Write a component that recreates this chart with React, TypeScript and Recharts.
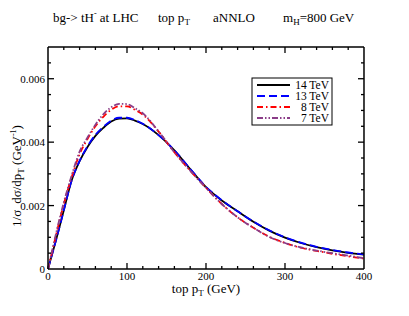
import React from "react";
import { Line, LineChart, XAxis, YAxis } from "recharts";

// top-quark pT distribution, normalised, for four LHC energies
const pT = [0, 5, 10, 20, 30, 40, 50, 60, 70, 80, 90, 100, 110, 120, 140, 160, 180, 200, 220, 240, 260, 280, 300, 320, 340, 360, 380, 400];
const tev14 = [0, 0.00045, 0.0009, 0.00185, 0.0028, 0.0034, 0.00385, 0.0042, 0.00445, 0.00465, 0.00474, 0.00475, 0.00468, 0.00457, 0.00422, 0.00374, 0.00315, 0.00258, 0.00216, 0.00182, 0.00149, 0.00121, 0.00099, 0.00082, 0.00069, 0.00059, 0.00051, 0.00045];
const tev13 = [0, 0.00045, 0.0009, 0.00185, 0.0028, 0.00341, 0.00387, 0.00423, 0.00448, 0.00468, 0.00477, 0.00477, 0.0047, 0.00458, 0.00422, 0.00374, 0.00316, 0.00259, 0.00217, 0.00182, 0.0015, 0.00122, 0.001, 0.00083, 0.0007, 0.0006, 0.00052, 0.00046];
const tev8 = [0, 0.00052, 0.00105, 0.00205, 0.0029, 0.00362, 0.0041, 0.0045, 0.0048, 0.00502, 0.00513, 0.00513, 0.00502, 0.00487, 0.00433, 0.00368, 0.0031, 0.00256, 0.00205, 0.00163, 0.0013, 0.00102, 0.00082, 0.00067, 0.00057, 0.00048, 0.0004, 0.00033];
const tev7 = [0, 0.00055, 0.0011, 0.0021, 0.00295, 0.0037, 0.00415, 0.00455, 0.00488, 0.0051, 0.00521, 0.0052, 0.00507, 0.00491, 0.00434, 0.00368, 0.0031, 0.00256, 0.00205, 0.00163, 0.0013, 0.00101, 0.00082, 0.00068, 0.00058, 0.0005, 0.00042, 0.00034];

// every 20 GeV a tick, labelled every 100
const xTicks = [0, 20, 40, 60, 80, 100, 120, 140, 160, 180, 200, 220, 240, 260, 280, 300, 320, 340, 360, 380, 400];
// every 0.0005 a tick, labelled every 0.002
const yTicks = [0, 0.0005, 0.001, 0.0015, 0.002, 0.0025, 0.003, 0.0035, 0.004, 0.0045, 0.005, 0.0055, 0.006, 0.0065, 0.007];

const series = [
  { key: "tev14", label: "14 TeV", color: "#000000", dash: undefined },
  { key: "tev13", label: "13 TeV", color: "#0000ff", dash: "8 4" },
  { key: "tev8", label: "8 TeV", color: "#ff0000", dash: "6 3 1.5 3" },
  { key: "tev7", label: "7 TeV", color: "#8b3d88", dash: "6 2 1.5 2 1.5 2" },
];

const data = pT.map((x, i) => ({
  pT: x,
  tev14: tev14[i],
  tev13: tev13[i],
  tev8: tev8[i],
  tev7: tev7[i],
}));

const W = 409;
const H = 316;
const M = { top: 47, right: 45, left: 0, bottom: 0 };
const Y_AXIS_W = 48;
const X_AXIS_H = 47;
const PLOT_W = W - M.right - Y_AXIS_W;
const PLOT_H = H - M.top - X_AXIS_H;

const font = "'Liberation Serif', 'DejaVu Serif', serif";
const isXMajor = (v: number) => v % 100 === 0;
const isYMajor = (v: number) => Math.abs(v / 0.002 - Math.round(v / 0.002)) < 1e-6 && v < 0.007;
const tickColor = "#000";

// inward ticks on bottom + mirrored top, label on majors
function XTick(props: any) {
  const x = Number(props.x);
  const y = Number(props.y);
  const v = props.payload.value;
  const len = isXMajor(v) ? 6 : 3;
  const top = y - PLOT_H;
  const inside = v > 0 && v < 400;
  return (
    <g>
      {inside && <line x1={x} x2={x} y1={y} y2={y - len} stroke={tickColor} strokeWidth={1.3} />}
      {inside && <line x1={x} x2={x} y1={top} y2={top + len} stroke={tickColor} strokeWidth={1.3} />}
      {isXMajor(v) && (
        <text x={x} y={y + 11} textAnchor="middle" fontSize={11} fontFamily={font} fill="#000">
          {v}
        </text>
      )}
    </g>
  );
}

function YTick(props: any) {
  const x = Number(props.x);
  const y = Number(props.y);
  const v = props.payload.value;
  const len = isYMajor(v) ? 6 : 3;
  const right = x + PLOT_W;
  const inside = v > 0 && v < 0.007;
  return (
    <g>
      {inside && <line x1={x} x2={x + len} y1={y} y2={y} stroke={tickColor} strokeWidth={1.3} />}
      {inside && <line x1={right} x2={right - len} y1={y} y2={y} stroke={tickColor} strokeWidth={1.3} />}
      {isYMajor(v) && (
        <text x={x - 3} y={y + 4} textAnchor="end" fontSize={11} fontFamily={font} fill="#000">
          {v === 0 ? "0" : v.toFixed(3)}
        </text>
      )}
    </g>
  );
}

const frame = { stroke: "#000", strokeWidth: 1.5 };

export default function App() {
  return (
    <div style={{ position: "absolute", left: 0, top: 0, width: W, height: H, background: "#fff" }}>
      <LineChart width={W} height={H} data={data} margin={M}>
        <XAxis xAxisId="main" dataKey="pT" type="number" domain={[0, 400]} ticks={xTicks} interval={0} height={X_AXIS_H} tickSize={0} tickMargin={0} tickLine={false} axisLine={frame} tick={XTick} />
        <XAxis xAxisId="top" orientation="top" dataKey="pT" type="number" domain={[0, 400]} height={0.01} tick={false} tickLine={false} axisLine={frame} />
        <YAxis yAxisId="main" type="number" domain={[0, 0.007]} ticks={yTicks} interval={0} width={Y_AXIS_W} tickSize={0} tickMargin={0} tickLine={false} axisLine={frame} tick={YTick} />
        <YAxis yAxisId="right" orientation="right" type="number" domain={[0, 0.007]} width={0.01} tick={false} tickLine={false} axisLine={frame} />
        {series.map((s) => (
          <Line
            key={s.key}
            xAxisId="main"
            yAxisId="main"
            type="monotone"
            dataKey={s.key}
            stroke={s.color}
            strokeWidth={1.8}
            strokeDasharray={s.dash}
            dot={false}
            isAnimationActive={false}
          />
        ))}
      </LineChart>

      <svg width={W} height={H} style={{ position: "absolute", left: 0, top: 0, pointerEvents: "none" }} fontFamily={font} fill="#000">
        <g fontSize={13}>
          <text x={53} y={22}>
            bg-&gt; tH<tspan fontSize={8} dy={-6}>-</tspan>
            <tspan dy={6}> at LHC</tspan>
          </text>
          <text x={158} y={22}>
            top p<tspan fontSize={9} dy={3}>T</tspan>
          </text>
          <text x={213} y={22}>aNNLO</text>
          <text x={283} y={22}>
            m<tspan fontSize={9} dy={3}>H</tspan>
            <tspan dy={-3}>=800 GeV</tspan>
          </text>
        </g>

        <text x={206} y={293} fontSize={13} textAnchor="middle">
          top p<tspan fontSize={9} dy={3}>T</tspan>
          <tspan dy={-3}> (GeV)</tspan>
        </text>

        <text x={0} y={0} fontSize={13} textAnchor="middle" transform="translate(21,176) rotate(-90)">
          1/σ<tspan dx={6}>dσ/dp</tspan>
          <tspan fontSize={9} dy={3}>T</tspan>
          <tspan dy={-3}> (GeV</tspan>
          <tspan fontSize={8} dy={-5}>-1</tspan>
          <tspan dy={5}>)</tspan>
        </text>

        <rect x={252} y={78} width={80} height={47} fill="#fff" stroke="#000" strokeWidth={1} />
        {series.map((s, i) => (
          <g key={s.key}>
            <line x1={257} x2={290} y1={85 + i * 11} y2={85 + i * 11} stroke={s.color} strokeWidth={1.8} strokeDasharray={s.dash} />
            <text x={329} y={89 + i * 11} fontSize={11.5} textAnchor="end">
              {s.label}
            </text>
          </g>
        ))}
      </svg>
    </div>
  );
}
